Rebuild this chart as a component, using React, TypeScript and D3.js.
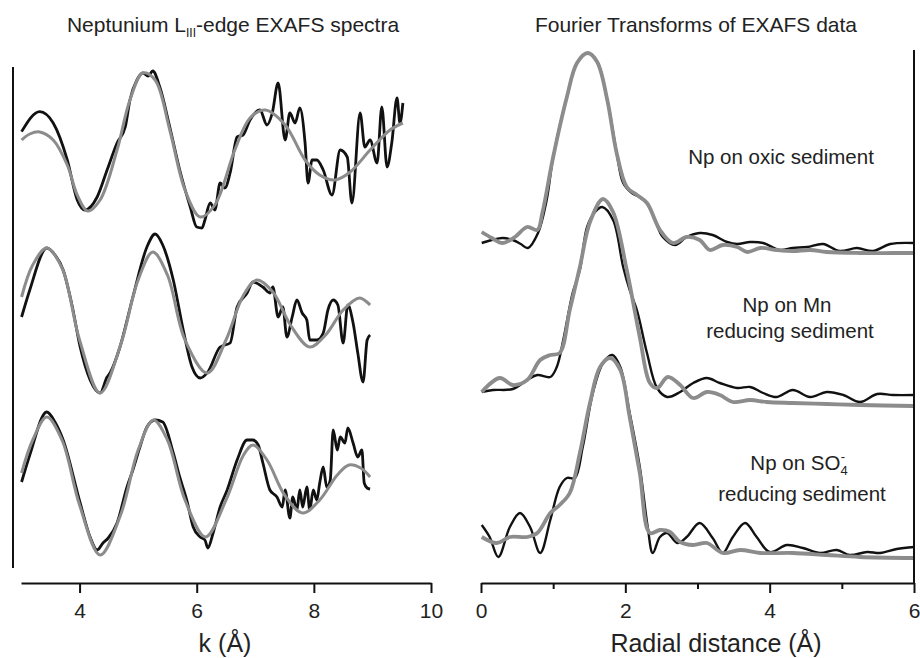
import React, { useEffect, useRef } from 'react';
import * as d3 from 'd3';

const W = 920, H = 658;

// tick values
const kTicks = [4, 6, 8, 10];
const rMajorTicks = [0, 2, 4, 6];
const rMinorTicks = [1, 3, 5];

// EXAFS spectra, [k, chi] - data (black) and fit (grey)
const oxicChi = [[3.01,0.57],[3.32,1.57],[3.55,1.0],[3.79,-0.85],[3.96,-2.85],[4.09,-3.35],[4.30,-2.7],[4.47,-1.35],[4.64,0],[4.78,0.8],[4.86,2.15],[4.98,3.15],[5.08,3.5],[5.17,3.35],[5.25,3.6],[5.37,2.8],[5.54,0.8],[5.71,-1.35],[5.89,-3.2],[6.00,-4.2],[6.09,-4.25],[6.14,-3.85],[6.23,-3.0],[6.31,-3.35],[6.40,-2.0],[6.48,-2.25],[6.57,-1.5],[6.69,0.3],[6.79,0.4],[6.91,1.15],[7.08,1.65],[7.20,0.9],[7.29,1.5],[7.39,3.0],[7.51,0.15],[7.59,1.5],[7.68,1.0],[7.76,1.75],[7.85,0],[7.90,-2.0],[7.97,-0.85],[8.05,-0.85],[8.16,-1.35],[8.31,-2.6],[8.45,-0.35],[8.57,-0.7],[8.65,-3.0],[8.79,1.5],[8.87,-0.2],[8.96,0.15],[9.08,-1.0],[9.16,1.8],[9.25,-1.2],[9.33,0],[9.42,2.25],[9.47,1.0],[9.52,2.0]];
const oxicChiFit = [[3.01,0.15],[3.15,0.45],[3.32,0.55],[3.55,0.15],[3.79,-1.1],[3.96,-2.6],[4.14,-3.4],[4.35,-2.85],[4.64,-0.35],[4.86,2.15],[5.08,3.5],[5.29,3.15],[5.54,0.65],[5.80,-2.35],[6.06,-3.7],[6.31,-3.1],[6.65,-0.35],[6.91,1.25],[7.17,1.65],[7.51,0.9],[7.85,-0.85],[8.10,-1.6],[8.36,-1.85],[8.62,-1.45],[8.96,-0.35],[9.30,0.65],[9.52,1.0]];

const mnChi = [[3.01,-0.2],[3.15,1.15],[3.44,3.25],[3.58,2.9],[3.72,2.15],[3.87,0.4],[4.01,-1.7],[4.18,-3.35],[4.35,-4.0],[4.47,-3.2],[4.52,-3.0],[4.69,-1.7],[4.91,0.8],[5.15,3.3],[5.29,3.95],[5.42,3.4],[5.60,1.65],[5.77,-0.85],[5.92,-2.7],[6.06,-3.25],[6.19,-2.95],[6.40,-1.7],[6.57,-1.5],[6.69,0.3],[6.86,1.0],[6.96,1.55],[7.13,1.3],[7.25,1.0],[7.30,1.3],[7.39,-0.2],[7.47,0.3],[7.54,-1.2],[7.63,-0.2],[7.71,0.65],[7.80,0],[7.88,-0.35],[7.93,-1.35],[8.05,-1.35],[8.16,-1.0],[8.24,0.15],[8.33,0.65],[8.41,0.4],[8.50,-1.5],[8.58,0.4],[8.67,-0.5],[8.75,-2.0],[8.84,-3.45],[8.91,-1.35],[8.96,-1.1]];
const mnChiFit = [[3.01,0.8],[3.2,2.4],[3.44,3.25],[3.7,2.25],[4.0,-1.35],[4.35,-4.0],[4.7,-1.6],[5.0,1.65],[5.25,3.05],[5.5,1.9],[5.8,-1.35],[6.18,-3.0],[6.5,-1.35],[6.8,0.9],[7.03,1.65],[7.3,1.05],[7.6,-0.6],[7.93,-1.7],[8.2,-1.1],[8.5,0.15],[8.78,0.75],[8.96,0.4]];

const so4Chi = [[3.01,0.05],[3.15,1.4],[3.44,3.55],[3.58,3.05],[3.72,2.15],[4.01,-1.0],[4.18,-2.7],[4.30,-3.35],[4.40,-3.0],[4.49,-2.75],[4.64,-2.0],[4.81,-0.2],[4.91,0.65],[5.03,1.8],[5.15,2.8],[5.29,3.15],[5.42,3.05],[5.60,1.5],[5.71,0.3],[5.83,-0.85],[5.94,-2.2],[6.06,-2.7],[6.14,-2.85],[6.19,-3.25],[6.28,-2.5],[6.40,-1.2],[6.52,-0.35],[6.69,1.15],[6.86,2.15],[6.96,2.15],[7.05,1.9],[7.13,1.0],[7.25,-0.35],[7.37,-0.7],[7.46,-1.2],[7.51,-0.35],[7.59,-1.75],[7.64,-0.7],[7.71,-1.35],[7.76,-0.35],[7.81,-1.2],[7.88,-0.2],[7.93,-1.35],[7.99,-0.35],[8.05,-0.85],[8.10,0],[8.16,0.8],[8.22,-0.2],[8.28,0.15],[8.33,2.65],[8.40,1.65],[8.45,2.3],[8.53,2.0],[8.58,2.75],[8.67,2.0],[8.75,1.3],[8.82,1.65],[8.86,0],[8.91,-0.25],[8.96,-0.3]];
const so4ChiFit = [[3.01,0.5],[3.2,2.15],[3.44,3.3],[3.7,2.15],[4.0,-1.1],[4.35,-3.6],[4.7,-1.6],[5.0,1.65],[5.26,3.15],[5.5,2.15],[5.8,-0.85],[6.15,-2.7],[6.5,-0.85],[6.8,1.4],[6.96,1.9],[7.2,1.15],[7.5,-0.6],[7.81,-1.5],[8.1,-0.85],[8.4,0.4],[8.6,0.9],[8.8,0.75],[8.96,0.3]];

// Fourier transform magnitudes, [R, |FT|] - data (black) and fit (grey)
const oxicFt = [[0.01,1.0],[0.15,1.3],[0.30,1.5],[0.44,1.3],[0.55,0.9],[0.65,0.5],[0.79,2.0],[0.91,5.3],[1.0,9.6],[1.19,15.6],[1.33,19.0],[1.48,20.0],[1.61,19.1],[1.75,15.3],[1.88,10.0],[1.97,7.0],[2.09,6.0],[2.20,5.6],[2.30,5.0],[2.41,3.3],[2.52,1.6],[2.69,0.8],[2.85,1.6],[3.03,2.0],[3.21,1.8],[3.41,1.1],[3.55,0.9],[3.73,1.1],[3.91,1.0],[4.14,0.3],[4.32,0.5],[4.52,0.6],[4.74,0.9],[4.97,0.2],[5.21,0.5],[5.43,0.2],[5.67,0.9],[6.0,1.0]];
const oxicFtFit = [[0.01,2.1],[0.15,1.5],[0.30,1.0],[0.47,1.6],[0.64,2.6],[0.78,2.3],[0.85,4.0],[1.0,9.6],[1.19,15.6],[1.33,19.0],[1.48,20.0],[1.61,19.1],[1.75,15.3],[1.88,10.0],[2.02,6.6],[2.16,5.8],[2.30,5.0],[2.48,2.3],[2.66,1.0],[2.85,1.6],[3.03,1.3],[3.17,0.3],[3.35,0.8],[3.55,0.6],[3.69,0.1],[3.87,0.5],[4.10,0.3],[4.32,0.2],[4.56,0.3],[4.79,0.1],[5.25,0],[5.71,0],[6.0,0]];

const mnFt = [[0.01,2.1],[0.17,2.3],[0.44,2.4],[0.64,3.3],[0.78,3.8],[0.96,3.6],[1.05,4.6],[1.14,7.3],[1.27,12.0],[1.37,14.3],[1.47,18.6],[1.58,20.1],[1.68,20.6],[1.83,19.3],[1.97,14.6],[2.06,12.3],[2.16,10.3],[2.30,6.0],[2.44,2.5],[2.58,1.6],[2.76,2.1],[2.94,3.0],[3.13,3.5],[3.31,3.0],[3.55,2.5],[3.73,2.6],[3.91,2.0],[4.10,1.6],[4.32,2.3],[4.56,1.6],[4.79,2.1],[5.02,1.8],[5.25,1.1],[5.49,1.9],[5.71,1.8],[6.0,1.8]];
const mnFtFit = [[0.01,2.1],[0.26,3.5],[0.44,2.8],[0.64,3.3],[0.82,5.3],[0.96,5.8],[1.09,6.0],[1.23,10.3],[1.37,14.6],[1.51,19.1],[1.69,21.4],[1.83,20.1],[2.02,14.3],[2.20,7.6],[2.34,3.0],[2.44,2.5],[2.59,3.6],[2.76,2.8],[2.94,1.5],[3.13,2.1],[3.31,1.8],[3.49,1.1],[3.73,1.3],[3.96,1.1],[4.32,1.0],[4.79,0.9],[5.25,0.8],[6.0,0.7]];

const so4Ft = [[0.01,3.8],[0.12,2.6],[0.24,0.6],[0.40,3.6],[0.54,5.0],[0.68,3.6],[0.82,1.0],[0.96,4.3],[1.09,7.6],[1.19,8.5],[1.30,8.5],[1.41,11.6],[1.55,17.0],[1.69,20.0],[1.82,20.8],[1.93,19.6],[2.06,15.0],[2.20,9.6],[2.31,3.6],[2.38,1.0],[2.48,2.6],[2.58,3.0],[2.72,2.0],[2.85,2.6],[3.03,4.0],[3.21,2.5],[3.35,1.0],[3.49,2.6],[3.66,4.0],[3.82,2.6],[4.00,1.1],[4.24,1.8],[4.46,1.5],[4.70,1.0],[4.93,1.3],[5.11,0.8],[5.35,1.1],[5.53,1.0],[5.76,1.4],[6.0,1.6]];
const so4FtFit = [[0.01,2.6],[0.22,2.0],[0.40,2.6],[0.64,2.6],[0.78,3.0],[0.96,5.0],[1.09,5.8],[1.23,7.0],[1.37,11.0],[1.51,16.0],[1.65,19.6],[1.79,20.5],[1.93,19.3],[2.06,14.6],[2.20,9.0],[2.34,3.0],[2.48,3.3],[2.62,3.1],[2.76,2.1],[2.94,1.8],[3.13,2.0],[3.35,1.0],[3.59,1.3],[3.87,1.0],[4.32,1.0],[4.79,0.8],[5.25,0.6],[6.0,0.5]];

const chiSets = [
  { data: oxicChi, fit: oxicChiFit, offset: 22 },
  { data: mnChi, fit: mnChiFit, offset: 13.5 },
  { data: so4Chi, fit: so4ChiFit, offset: 5 },
];
const ftSets = [
  { data: oxicFt, fit: oxicFtFit, offset: 33 },
  { data: mnFt, fit: mnFtFit, offset: 17 },
  { data: so4Ft, fit: so4FtFit, offset: 2 },
];

const FONT = "'Liberation Sans', Arial, Helvetica, sans-serif";
const BLACK = '#111';
const GREY = '#8c8c8c';

export default function App() {
  const ref = useRef<SVGSVGElement>(null);

  useEffect(() => {
    const svg = d3.select(ref.current);
    svg.selectAll('*').remove();

    const axisY = 583;
    const xK = d3.scaleLinear().domain([3, 10]).range([21, 431]);
    const yL = d3.scaleLinear().domain([0, 26]).range([583, 63]);
    const xR = d3.scaleLinear().domain([0, 6]).range([481, 914]);
    const yR = d3.scaleLinear().domain([0, 53]).range([583, 53]);

    // left panel spectra
    chiSets.forEach(s => {
      const lineData = d3.line<number[]>()
        .x(d => xK(d[0]))
        .y(d => yL(d[1] + s.offset))
        .curve(d3.curveMonotoneX);
      const lineFit = d3.line<number[]>()
        .x(d => xK(d[0]))
        .y(d => yL(d[1] + s.offset))
        .curve(d3.curveCatmullRom);
      svg.append('path').attr('d', lineData(s.data)).attr('fill', 'none')
        .attr('stroke', BLACK).attr('stroke-width', 2.8).attr('stroke-linejoin', 'round');
      svg.append('path').attr('d', lineFit(s.fit)).attr('fill', 'none')
        .attr('stroke', GREY).attr('stroke-width', 3);
    });

    // right panel transforms
    ftSets.forEach(s => {
      const line = d3.line<number[]>()
        .x(d => xR(d[0]))
        .y(d => yR(d[1] + s.offset))
        .curve(d3.curveCatmullRom);
      svg.append('path').attr('d', line(s.data)).attr('fill', 'none')
        .attr('stroke', BLACK).attr('stroke-width', 2.4);
      svg.append('path').attr('d', line(s.fit)).attr('fill', 'none')
        .attr('stroke', GREY).attr('stroke-width', 3.8);
    });

    // bottom axes
    const styleAxis = (g: any) => {
      g.select('.domain').attr('stroke', BLACK).attr('stroke-width', 2);
      g.selectAll('.tick line').attr('stroke', BLACK).attr('stroke-width', 2);
      g.selectAll('.tick text').attr('font-size', 21).attr('font-family', FONT).attr('fill', '#222');
    };

    svg.append('g').attr('transform', `translate(0,${axisY})`)
      .call(d3.axisBottom(xK).tickValues(kTicks).tickFormat(d3.format('d')).tickSize(10).tickSizeOuter(0).tickPadding(10))
      .call(styleAxis);

    svg.append('g').attr('transform', `translate(0,${axisY})`)
      .call(d3.axisBottom(xR).tickValues(rMajorTicks).tickFormat(d3.format('d')).tickSize(10).tickSizeOuter(0).tickPadding(10))
      .call(styleAxis);
    svg.append('g').attr('transform', `translate(0,${axisY})`)
      .call(d3.axisBottom(xR).tickValues(rMinorTicks).tickSize(6).tickFormat(() => ''))
      .call((g: any) => {
        g.select('.domain').remove();
        g.selectAll('.tick line').attr('stroke', BLACK).attr('stroke-width', 2);
      });

    // vertical frame lines
    svg.append('line').attr('x1', 13).attr('x2', 13).attr('y1', 67).attr('y2', 568)
      .attr('stroke', BLACK).attr('stroke-width', 2);
    svg.append('line').attr('x1', 914).attr('x2', 914).attr('y1', 50).attr('y2', axisY)
      .attr('stroke', BLACK).attr('stroke-width', 2);

    // axis titles
    svg.append('text').attr('x', 225).attr('y', 652).attr('text-anchor', 'middle')
      .attr('font-size', 25).attr('font-family', FONT).attr('fill', '#222').text('k (Å)');
    svg.append('text').attr('x', 716).attr('y', 652).attr('text-anchor', 'middle')
      .attr('font-size', 25).attr('font-family', FONT).attr('fill', '#222').text('Radial distance (Å)');

    // panel titles
    const t1 = svg.append('text').attr('x', 233).attr('y', 32).attr('text-anchor', 'middle')
      .attr('font-size', 21).attr('font-family', FONT).attr('fill', '#222');
    t1.append('tspan').text('Neptunium L');
    t1.append('tspan').attr('font-size', 12).attr('dy', 5).text('III');
    t1.append('tspan').attr('dy', -5).text('-edge EXAFS spectra');

    svg.append('text').attr('x', 696).attr('y', 32).attr('text-anchor', 'middle')
      .attr('font-size', 21).attr('font-family', FONT).attr('fill', '#222')
      .text('Fourier Transforms of EXAFS data');

    // sample labels
    const label = (x: number, y: number, s: string) =>
      svg.append('text').attr('x', x).attr('y', y).attr('text-anchor', 'middle')
        .attr('font-size', 20.5).attr('font-family', FONT).attr('fill', '#222').text(s);
    label(781, 164, 'Np on oxic sediment');
    label(787, 312, 'Np on Mn');
    label(790, 338, 'reducing sediment');
    const so = svg.append('text').attr('x', 799).attr('y', 470).attr('text-anchor', 'middle')
      .attr('font-size', 20.5).attr('font-family', FONT).attr('fill', '#222');
    so.append('tspan').text('Np on SO');
    so.append('tspan').attr('font-size', 13).attr('dy', 5).text('4');
    so.append('tspan').attr('font-size', 13).attr('dx', -7).attr('dy', -14).text('-');
    label(802, 501, 'reducing sediment');
  }, []);

  return (
    <svg ref={ref} width={W} height={H}
      style={{ position: 'absolute', left: 0, top: 0, background: '#fff' }} />
  );
}
